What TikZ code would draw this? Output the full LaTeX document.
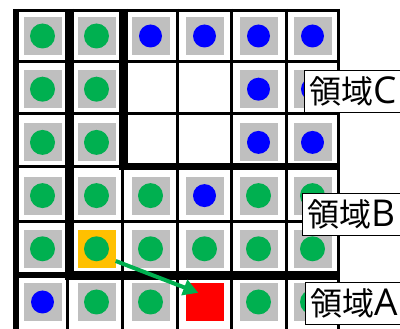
\documentclass[tikz,border=0pt]{standalone}
\usepackage{fontspec}
\newfontfamily\cjk{Noto Sans CJK JP}
\newfontfamily\lat{Open Sans}
\usepackage{xcolor}
\usetikzlibrary{arrows.meta, positioning}
\definecolor{cellgray}{RGB}{191,191,191}
\definecolor{dotgreen}{RGB}{0,176,80}
\definecolor{dotblue}{RGB}{0,0,255}
\definecolor{selorange}{RGB}{255,192,0}
\definecolor{goalred}{RGB}{255,0,0}
\newcommand{\regionname}[1]{{\cjk\fontsize{32}{36}\selectfont 領域}{\lat\fontsize{37}{36}\selectfont #1}}

\begin{document}
\begin{tikzpicture}[x=1pt, y=-1pt, >={Triangle[length=15pt, width=16pt]},
	wall/.style={line width=3pt},
	thickwall/.style={line width=9pt},
	tile g/.style={fill=cellgray, path picture={\fill[dotgreen] (path picture bounding box.center) circle (12.5pt);}},
	tile b/.style={fill=cellgray, path picture={\fill[dotblue] (path picture bounding box.center) circle (11.5pt);}},
	tile y/.style={fill=selorange, path picture={\fill[dotgreen] (path picture bounding box.center) circle (12.5pt);}},
	tile r/.style={fill=goalred},
	tile n/.style={},
	regionbox/.style={draw, line width=1.2pt, fill=white, anchor=north west, minimum height=42pt, inner xsep=5pt, inner ysep=0pt}]
					\useasboundingbox (0,0) rectangle (400,329);
					\clip (0,0) rectangle (400,329);
					
					% Thin grid lines
					\foreach \x in {177.5, 231.5, 286.5, 338.5}
						\draw[wall] (\x,9) -- (\x,335);
					\draw[wall] (67.5,275) -- (67.5,335);
					\draw[wall] (122,166) -- (122,335);
					\foreach \y in {10.5, 61.5, 114, 166.5, 221.5}
						\draw[wall] (13,\y) -- (340,\y);
					
					% Region borders
					\draw[line width=6pt] (16,9) -- (16,335);
					\draw[thickwall] (69.5,9) -- (69.5,275.5);
					\draw[thickwall] (123.5,9) -- (123.5,166.5);
					\draw[line width=7pt] (119,166.5) -- (340,166.5);
					\draw[line width=6pt] (13,275.5) -- (69.5,275.5);
					\draw[thickwall] (65,275.5) -- (340,275.5);
					
					% Tiles
					\foreach \r/\row in {1/{g,g,b,b,b,b}, 2/{g,g,n,n,b,b}, 3/{g,g,n,n,b,b},
						4/{g,g,g,b,g,g}, 5/{g,y,g,g,g,g}, 6/{b,g,g,r,g,g}}
						\foreach \k [count=\c] in \row
							\node[tile \k, minimum size=38pt, inner sep=0pt] (c\r\c) at ({42.5+54*(\c-1)}, {36+53.2*(\r-1)}) {};
					
					% Move
					\draw[->, dotgreen, line width=4pt] ([yshift=7pt]c52.south east) -- ([xshift=13pt, yshift=-10pt]c64.north west);
					
					% Labels
					\node[regionbox] (regC) at (304,70) {\regionname{C}};
					\node[regionbox] (regB) at (302,193) {\regionname{B}};
					\node[regionbox] (regA) at (305,282) {\regionname{A}};
				\end{tikzpicture}
\end{document}
